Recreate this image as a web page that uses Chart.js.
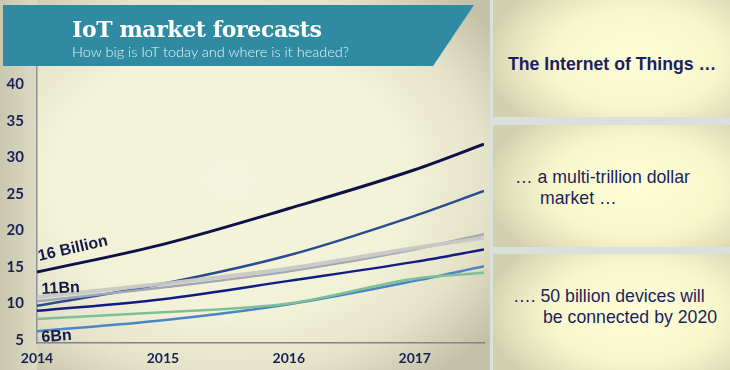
<!DOCTYPE html>
<html>
<head>
<meta charset="utf-8">
<script src="https://cdn.jsdelivr.net/npm/chart.js@4.4.1/dist/chart.umd.min.js"></script>
<style>
  html, body { margin:0; padding:0; width:730px; height:370px; overflow:hidden; background:#dae1dc; }
  #left { position:absolute; left:0; top:0; width:490px; height:370px;
    background: radial-gradient(ellipse 330px 250px at 230px 180px, #f4f4dc 0%, #f2f2d8 55%, #e4e2c8 78%, #c4c1a9 100%); }
  #strip { position:absolute; left:0; top:0; width:37px; height:370px;
    background: linear-gradient(90deg, #c9c7ae 0%, #dcdac2 100%); }
  #cwrap { position:absolute; left:0; top:0; width:490px; height:370px; }
  #banner { position:absolute; left:3px; top:5px; width:471px; height:61px; background:#2f8aa2;
    clip-path: polygon(0 0, 100% 0, 91.3% 100%, 0 100%); }
  #title { position:absolute; left:72px; top:16px; font-family:"DejaVu Serif", serif; font-weight:bold;
    font-size:22px; color:#ffffff; letter-spacing:-0.4px; white-space:nowrap; }
  #sub { position:absolute; left:72px; top:43px; font-family:"Lato", sans-serif; font-weight:300;
    font-size:14.5px; color:#e8f3f5; white-space:nowrap; }
  .ann { position:absolute; font-family:"Liberation Sans", Arial, sans-serif; font-weight:bold; font-size:16px;
    line-height:16px; color:#141a4a; white-space:nowrap; transform-origin:left bottom; }
  .box { position:absolute; left:493px; width:237px;
    background: radial-gradient(ellipse 150px 90px at 60% 50%, #fefed8 0%, #f8f7cc 55%, #e3e1bc 85%, #d2d0ae 100%);
    font-family:"Liberation Sans", Arial, sans-serif; color:#1b1f5c; font-size:17.7px; }
  .box div { position:absolute; white-space:nowrap; }
</style>
</head>
<body>
<div id="left"></div>
<div id="strip"></div>
<div id="cwrap"><canvas id="c" width="490" height="370"></canvas></div>
<div id="banner"></div>
<div id="title">IoT market forecasts</div>
<div id="sub">How big is IoT today and where is it headed?</div>
<div class="ann" style="left:40px; top:248px; transform:rotate(-13deg);">16 Billion</div>
<div class="ann" style="left:42px; top:281px; transform:rotate(-3deg);">11Bn</div>
<div class="ann" style="left:42px; top:329px; transform:rotate(-4deg);">6Bn</div>

<div class="box" style="top:0; height:117px;">
  <div style="left:15px; top:54px; font-weight:bold;">The Internet of Things …</div>
</div>
<div class="box" style="top:125px; height:122px;">
  <div style="left:22px; top:42px;">… a multi-trillion dollar</div>
  <div style="left:47px; top:63px;">market …</div>
</div>
<div class="box" style="top:254px; height:116px;">
  <div style="left:20px; top:32px;">…. 50 billion devices will</div>
  <div style="left:50px; top:53px;">be connected by 2020</div>
</div>

<script>
// x positions (years) at which values were read; last is the right edge of the plot
const years = [2014, 2015, 2016, 2017, 2017.55];
const xTickLabels = ["2014", "2015", "2016", "2017"];
const xTickValues = [2014, 2015, 2016, 2017];
const yTicks = [5, 10, 15, 20, 25, 30, 35, 40];

const forecast16Bn   = [14.3, 18.1, 23.0, 28.3, 31.8];
const forecastSteel  = [9.7, 12.7, 16.6, 22.0, 25.4];
const forecastLGray  = [10.9, 12.7, 14.8, 17.6, 19.0];
const forecastGray   = [10.3, 12.2, 14.4, 17.4, 19.5];
const forecast11Bn   = [9.0, 10.6, 13.1, 15.7, 17.4];
const forecastGreen  = [7.9, 8.8, 10.0, 13.4, 14.2];
const forecast6Bn    = [6.2, 7.7, 9.9, 13.1, 15.1];

function pts(vals) { return vals.map((v, i) => ({x: years[i], y: v})); }
function ds(vals, color, w) {
  return { data: pts(vals), borderColor: color, borderWidth: w, pointRadius: 0,
           cubicInterpolationMode: 'monotone', fill: false };
}

new Chart(document.getElementById('c'), {
  type: 'line',
  data: {
    datasets: [
      ds(forecastLGray, 'rgba(200,200,196,0.95)', 4),
      ds(forecastGray, '#a2a7b8', 2.5),
      ds(forecastGreen, '#7dbf98', 2.5),
      ds(forecast6Bn, '#4a86c6', 2.5),
      ds(forecast11Bn, '#0f1c86', 2.5),
      ds(forecastSteel, '#2b4c8c', 2.5),
      ds(forecast16Bn, '#0c1248', 3)
    ]
  },
  options: {
    responsive: false,
    animation: false,
    layout: { padding: { top: 66, right: 6, left: 0, bottom: 0 } },
    plugins: { legend: { display: false }, tooltip: { enabled: false } },
    scales: {
      x: {
        type: 'linear', min: 2014, max: 2017.55,
        grid: { display: false, drawTicks: false },
        border: { display: true, color: '#7c8498', width: 1.5 },
        afterBuildTicks: s => { s.ticks = xTickValues.map(v => ({value: v})); },
        afterFit: s => { s.height = 27; },
        ticks: { padding: 7, color: '#1b1f58', font: { family: 'Lato', weight: 'bold', size: 14 },
                 callback: (v) => xTickLabels[xTickValues.indexOf(v)] ?? '' , maxRotation: 0}
      },
      y: {
        min: 4.6, max: 42.5,
        grid: { display: false, drawTicks: false },
        border: { display: true, color: '#8e929c', width: 1.5 },
        afterBuildTicks: s => { s.ticks = yTicks.map(v => ({value: v})); },
        afterFit: s => { s.width = 37; },
        ticks: { padding: 13, color: '#1b1f58', font: { family: 'Lato', weight: 'bold', size: 15 } }
      }
    }
  }
});
</script>
</body>
</html>
